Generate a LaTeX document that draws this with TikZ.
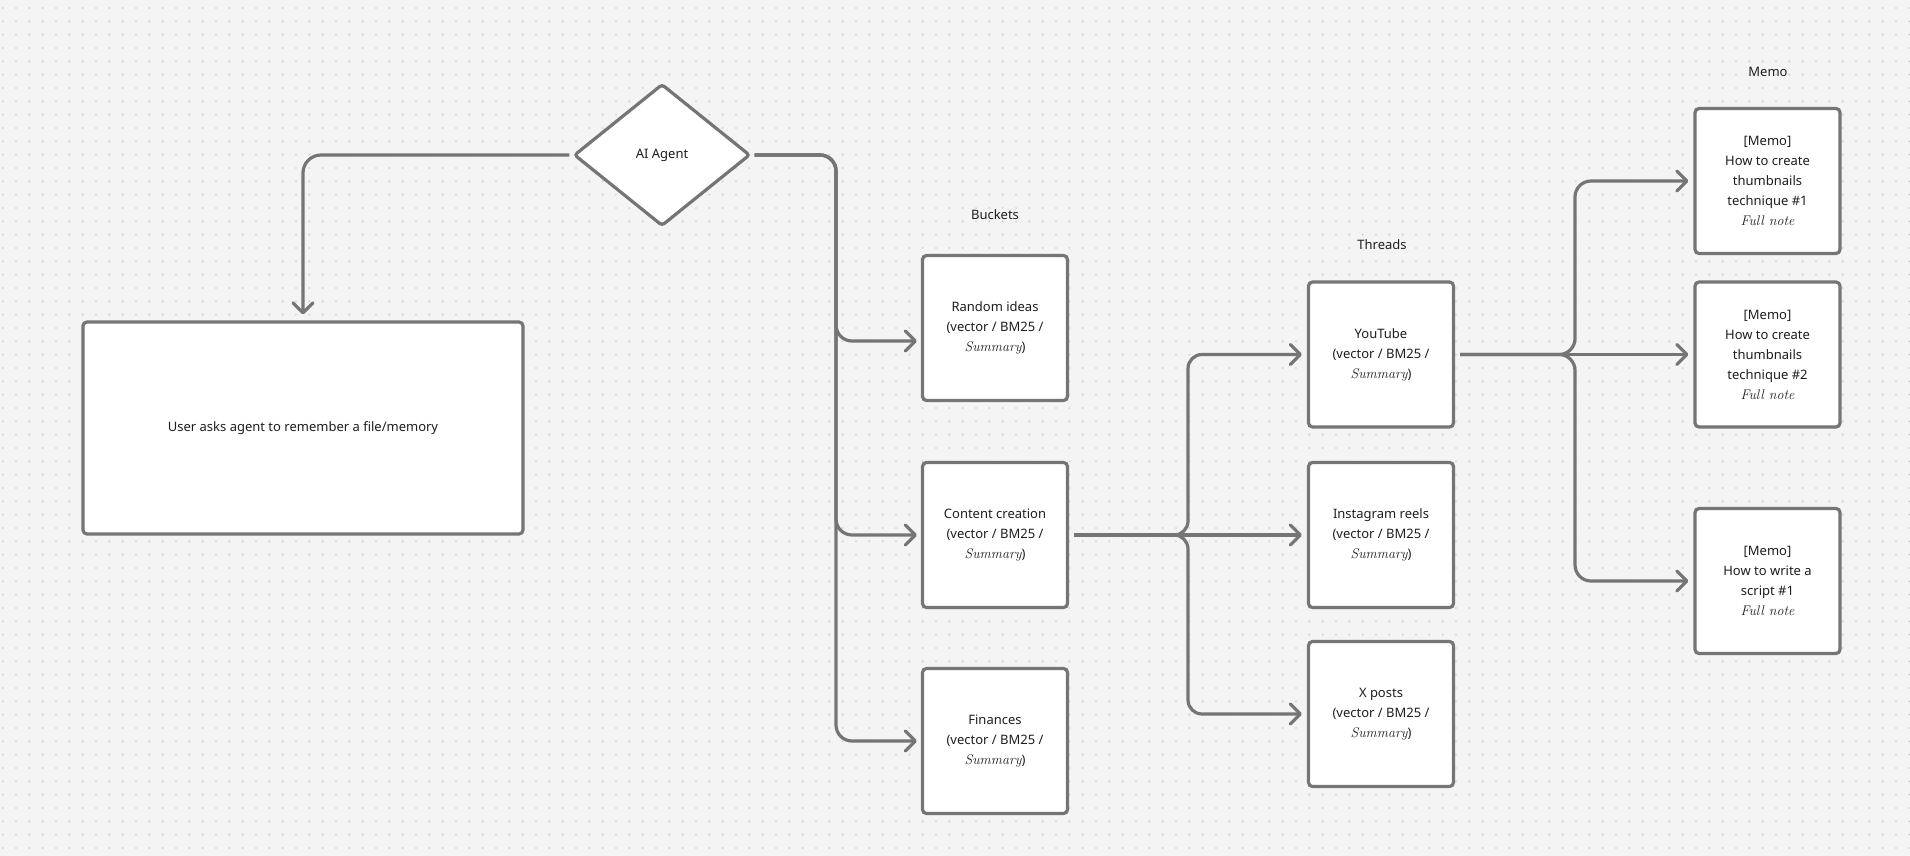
\documentclass[tikz,border=0pt]{standalone}
\usepackage{fontspec}
\newfontfamily\uifont{Noto Sans}
\usetikzlibrary{shapes.geometric,arrows.meta}
\definecolor{bgc}{HTML}{F4F4F4}
\definecolor{dotc}{HTML}{C6C6C6}
\definecolor{strokec}{HTML}{757575}
\definecolor{txtc}{HTML}{1E1E1E}
\newcommand{\hw}[1]{{\rmfamily\itshape\fontsize{14}{20}\selectfont #1}}
\begin{document}
\begin{tikzpicture}[x=1pt,y=-1pt,
  lbl/.style={font=\uifont\fontsize{13}{20}\selectfont, text=txtc, align=center, inner sep=0},
  box/.style={lbl, draw=strokec, line width=3.2pt, fill=white, rounded corners=4pt,
    minimum width=145pt, minimum height=145pt},
  conn/.style={draw=strokec, line width=3.2pt, rounded corners=16pt,
    -{Straight Barb[length=10pt,width=20pt,round]}},
]
\useasboundingbox (0,0) rectangle (1910,856);
\fill[bgc] (0,0) rectangle (1910,856);
\foreach \j in {0,...,63} {
  \fill[dotc] \foreach \i in {0,...,143} {({\i*13.333+2.0},{\j*13.333+7.3}) rectangle ++(1.4,1.4)};
}

% nodes
\node[lbl, diamond, draw=strokec, line width=3.2pt, fill=white, rounded corners=3pt,
  minimum width=176pt, minimum height=142pt] (ai) at (662,155) {AI Agent};
\node[box, minimum width=440pt, minimum height=212pt] (user) at (303,428)
  {User asks agent to remember a file/memory};

\node[lbl] (lbuckets) at (995,215) {Buckets};
\node[lbl] (lthreads) at (1382,245) {Threads};
\node[lbl] (lmemo) at (1768,72) {Memo};

\node[box] (rnd) at (995,328) {Random ideas\\(vector / BM25 /\\\hw{Summary})};
\node[box] (cc) at (995,535) {Content creation\\(vector / BM25 /\\\hw{Summary})};
\node[box] (fin) at (995,741) {Finances\\(vector / BM25 /\\\hw{Summary})};

\node[box] (yt) at (1381,354.5) {YouTube\\(vector / BM25 /\\\hw{Summary})};
\node[box] (ig) at (1381,535) {Instagram reels\\(vector / BM25 /\\\hw{Summary})};
\node[box] (xp) at (1381,714) {X posts\\(vector / BM25 /\\\hw{Summary})};

\node[box] (m1) at (1767.5,181) {[Memo]\\How to create\\thumbnails\\technique \#1\\\hw{Full note}};
\node[box] (m2) at (1767.5,354.5) {[Memo]\\How to create\\thumbnails\\technique \#2\\\hw{Full note}};
\node[box] (m3) at (1767.5,581) {[Memo]\\How to write a\\script \#1\\\hw{Full note}};

% helper coordinates
\coordinate (busx) at (836,155);
\coordinate (ra) at ([yshift=-13pt]rnd.west);
\coordinate (tx) at (1188,0);
\coordinate (mx) at (1575,0);

% connectors
\draw[conn, rounded corners=18pt, shorten <=3pt, shorten >=6pt] (ai.west) -| (user.north);
\draw[conn, shorten <=3pt, shorten >=4pt] (ai.east) -| (ra -| busx) -- (ra);
\draw[conn, shorten <=3pt, shorten >=4pt] (ai.east) -| (cc.west -| busx) -- (cc.west);
\draw[conn, shorten <=3pt, shorten >=4pt] (ai.east) -| (fin.west -| busx) -- (fin.west);

\draw[conn, rounded corners=14pt, shorten <=5pt, shorten >=5pt] (cc.east) -| (yt.west -| tx) -- (yt.west);
\draw[conn, shorten <=5pt, shorten >=5pt] (cc.east) -- (ig.west);
\draw[conn, rounded corners=14pt, shorten <=5pt, shorten >=5pt] (cc.east) -| (xp.west -| tx) -- (xp.west);

\draw[conn, shorten <=5pt, shorten >=5pt] (yt.east) -| (m1.west -| mx) -- (m1.west);
\draw[conn, shorten <=5pt, shorten >=5pt] (yt.east) -- (m2.west);
\draw[conn, shorten <=5pt, shorten >=5pt] (yt.east) -| (m3.west -| mx) -- (m3.west);
\end{tikzpicture}
\end{document}
